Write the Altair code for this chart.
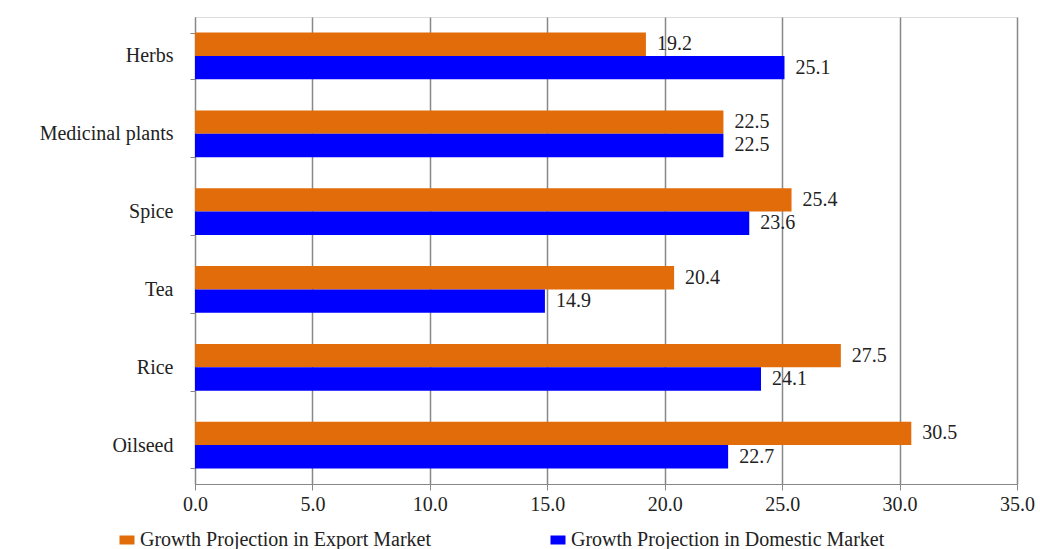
import altair as alt
import pandas as pd

categories = ["Herbs", "Medicinal plants", "Spice", "Tea", "Rice", "Oilseed"]
export_vals = [19.2, 22.5, 25.4, 20.4, 27.5, 30.5]
domestic_vals = [25.1, 22.5, 23.6, 14.9, 24.1, 22.7]
series = ["Growth Projection in Export Market", "Growth Projection in Domestic Market"]
colors = ["#E36C0A", "#0000FF"]

rows = []
for c, e, d in zip(categories, export_vals, domestic_vals):
    rows.append({"cat": c, "series": series[0], "value": e, "ord": 0})
    rows.append({"cat": c, "series": series[1], "value": d, "ord": 1})
df = pd.DataFrame(rows)

FONT = "Times New Roman, Liberation Serif, DejaVu Serif, serif"

y = alt.Y("cat:N", sort=categories, title=None,
          scale=alt.Scale(paddingInner=0.4, paddingOuter=0.2),
          axis=alt.Axis(tickBand="extent", labelFontSize=20, labelFont=FONT,
                        labelColor="#222", labelPadding=17, tickSize=5,
                        tickColor="#888", domainColor="#888", grid=False))
x = alt.X("value:Q", title=None,
          scale=alt.Scale(domain=[0, 35], nice=False),
          axis=alt.Axis(values=[0, 5, 10, 15, 20, 25, 30, 35], format=".1f",
                        labelFontSize=20, labelFont=FONT, labelColor="#222",
                        labelFlush=False, labelOverlap=False,
                        tickSize=6, tickColor="#888", domainColor="#888",
                        gridColor="#888", gridWidth=1.5, labelPadding=4))
yoff = alt.YOffset("series:N", sort=series)

bars = alt.Chart(df).mark_bar(size=23.4).encode(
    x=x, y=y, yOffset=yoff,
    color=alt.Color("series:N", sort=series,
                    scale=alt.Scale(domain=series, range=colors),
                    legend=alt.Legend(title=None, orient="none", legendX=-78, legendY=513,
                                      direction="horizontal", columnPadding=116,
                                      symbolType="M-1,-0.6H1V0.6H-1Z", symbolSize=225,
                                      symbolStrokeWidth=0, labelFontSize=20, labelFont=FONT,
                                      labelColor="#222", labelOffset=3, padding=0,
                                      labelLimit=500)),
)

labels = alt.Chart(df).mark_text(align="left", dx=11, fontSize=20, font=FONT, color="#222").encode(
    x="value:Q", y=alt.Y("cat:N", sort=categories), yOffset=yoff,
    text=alt.Text("value:Q", format=".1f"),
)

chart = alt.layer(bars, labels).properties(
    width=822, height=467,
    autosize=alt.AutoSizeParams(type="none"),
    padding={"left": 195, "top": 17, "right": 23, "bottom": 65},
).configure_view(stroke=None).configure(background="white")

chart.save("out.html", embed_options={"renderer": "svg", "actions": False})
